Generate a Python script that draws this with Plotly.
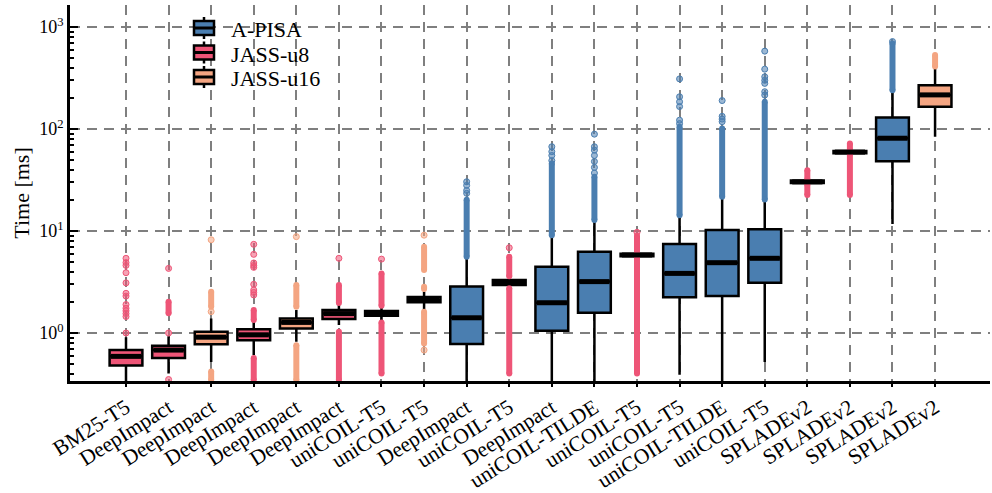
import plotly.graph_objects as go

# ---------------- data ----------------
labels = ["BM25-T5", "DeepImpact", "DeepImpact", "DeepImpact", "DeepImpact", "DeepImpact",
          "uniCOIL-T5", "uniCOIL-T5", "DeepImpact", "uniCOIL-T5", "DeepImpact", "uniCOIL-TILDE",
          "uniCOIL-T5", "uniCOIL-T5", "uniCOIL-TILDE", "uniCOIL-T5",
          "SPLADEv2", "SPLADEv2", "SPLADEv2", "SPLADEv2"]
systems = ["JASS-u8", "JASS-u8", "JASS-u16", "JASS-u8", "JASS-u16", "JASS-u8",
           "JASS-u8", "JASS-u16", "A-PISA", "JASS-u8", "A-PISA", "A-PISA",
           "JASS-u8", "A-PISA", "A-PISA", "A-PISA",
           "JASS-u8", "JASS-u8", "A-PISA", "JASS-u16"]

q1 = [0.48, 0.57, 0.775, 0.85, 1.11, 1.37, 1.48, 2.00, 0.78, 2.95, 1.05, 1.58,
      5.65, 2.24, 2.31, 3.11, 29.5, 58.0, 48.3, 165.0]
median = [0.59, 0.68, 0.91, 0.96, 1.27, 1.55, 1.56, 2.11, 1.41, 3.12, 1.98, 3.19,
          5.82, 3.84, 4.89, 5.40, 30.3, 59.4, 81.2, 216.0]
q3 = [0.68, 0.75, 1.03, 1.09, 1.39, 1.68, 1.64, 2.25, 2.85, 3.30, 4.47, 6.27,
      6.00, 7.45, 10.2, 10.4, 31.2, 61.0, 130.0, 268.0]
lower_whisker = [0.30, 0.40, 0.52, 0.61, 0.82, 1.20, 1.29, 1.68, 0.30, 2.74, 0.30, 0.30,
                 5.50, 0.39, 0.30, 0.52, 28.5, 57.0, 11.7, 84.0]
upper_whisker = [0.91, 0.93, 1.39, 1.29, 1.68, 1.92, 1.81, 2.54, 5.6, 3.56, 9.1, 12.8,
                 6.20, 14.3, 21.7, 20.4, 32.0, 62.0, 240.0, 410.0]

# dense runs of outliers: (box index, low, high)
dense_outliers = [
    (1, 1.56, 2.03),
    (2, 1.81, 2.54), (2, 0.346, 0.42),
    (3, 1.34, 1.68), (3, 0.346, 0.57),
    (4, 1.81, 2.95), (4, 0.346, 0.76),
    (5, 1.97, 2.95), (5, 0.346, 1.03),
    (6, 1.85, 3.84), (6, 0.40, 1.27),
    (7, 4.15, 7.0), (7, 0.79, 1.62), (7, 2.70, 2.84),
    (8, 5.6, 20.2),
    (9, 3.6, 5.6), (9, 0.40, 2.74),
    (10, 9.1, 46.0),
    (11, 12.8, 34.0),
    (12, 6.2, 9.0), (12, 0.40, 5.5),
    (13, 14.3, 105.0),
    (14, 21.7, 101.0),
    (15, 20.4, 185.0),
    (16, 32.0, 39.4), (16, 22.5, 28.5),
    (17, 62.0, 72.0), (17, 22.5, 57.0),
    (18, 240.0, 690.0),
    (19, 410.0, 530.0),
]
# isolated outliers: box index -> values
sparse_outliers = {
    0: [1.0, 1.45, 1.55, 1.65, 1.75, 1.9, 2.3, 2.45, 3.1, 3.9, 4.6, 4.9, 5.4],
    1: [1.0, 4.3, 0.35],
    2: [1.62, 8.2],
    3: [2.36, 2.5, 2.64, 3.0, 4.4, 4.6, 4.86, 5.9, 7.4],
    4: [8.8],
    5: [5.4],
    6: [5.3],
    7: [9.1, 0.68],
    8: [23.4, 25.0, 28.0, 30.4],
    9: [6.85],
    10: [49.0, 55.0, 60.0, 67.0],
    11: [37.0, 42.0, 48.0, 55.0, 62.0, 67.0, 89.0],
    12: [9.7],
    13: [113.0, 122.0, 166.0, 185.0, 207.0, 310.0],
    14: [118.0, 125.0, 133.0, 190.0],
    15: [215.0, 232.0, 280.0, 300.0, 325.0, 386.0, 580.0],
    18: [720.0],
}

y_tick_values = [1, 10, 100, 1000]
y_tick_text = ["10<sup>0</sup>", "10<sup>1</sup>", "10<sup>2</sup>", "10<sup>3</sup>"]
legend_names = ["A-PISA", "JASS-u8", "JASS-u16"]

# ---------------- styling ----------------
colors = {"A-PISA": "#4A7EB0", "JASS-u8": "#EE5577", "JASS-u16": "#F4A582"}
faded = {"A-PISA": "rgba(74,126,176,0.55)", "JASS-u8": "rgba(238,85,119,0.55)",
         "JASS-u16": "rgba(244,165,130,0.55)"}
BOX_W = 0.77
FONT = "Liberation Serif"
W, H = 992, 493
ML, MR, MT, MB = 70, 2, 5, 112
PW, PH = W - ML - MR, H - MT - MB


def px_x(px):
    return (px - ML) / PW


def px_y(py):
    return (H - MB - py) / PH


fig = go.Figure()
xs_all = list(range(len(labels)))

# outliers (beyond whiskers)
for sysname in legend_names:
    dx, dy = [], []
    for i, lo, hi in dense_outliers:
        if systems[i] == sysname:
            dx += [i, i, None]
            dy += [lo, hi, None]
    if dx:
        fig.add_trace(go.Scatter(x=dx, y=dy, mode="lines+markers",
                                 line=dict(color=colors[sysname], width=6),
                                 marker=dict(size=6, color=colors[sysname]),
                                 showlegend=False, hoverinfo="skip"))
    sx, sy = [], []
    for i, vals in sparse_outliers.items():
        if systems[i] == sysname:
            sx += [i] * len(vals)
            sy += vals
    if sx:
        fig.add_trace(go.Scatter(x=sx, y=sy, mode="markers",
                                 marker=dict(size=6, color=faded[sysname],
                                             line=dict(color=colors[sysname], width=1)),
                                 showlegend=False, hoverinfo="skip"))

# boxes
for sysname in legend_names:
    idx = [i for i in xs_all if systems[i] == sysname]
    fig.add_trace(go.Box(
        name=sysname,
        x=idx,
        q1=[q1[i] for i in idx],
        median=[median[i] for i in idx],
        q3=[q3[i] for i in idx],
        lowerfence=[lower_whisker[i] for i in idx],
        upperfence=[upper_whisker[i] for i in idx],
        fillcolor=colors[sysname],
        line=dict(color="black", width=2.5),
        width=BOX_W,
        whiskerwidth=0,
        boxpoints=False,
        hoverinfo="skip",
        showlegend=False,
    ))

# thick median bars
mx, my = [], []
for i in xs_all:
    mx += [i - BOX_W / 2 + 0.03, i + BOX_W / 2 - 0.03, None]
    my += [median[i], median[i], None]
fig.add_trace(go.Scatter(x=mx, y=my, mode="lines", line=dict(color="black", width=5),
                         showlegend=False, hoverinfo="skip"))

# hand-drawn legend (box icon with whiskers + label)
row_centers = [28, 52.5, 77]
shapes = []
annotations = []
for name, cy in zip(legend_names, row_centers):
    shapes.append(dict(type="line", xref="paper", yref="paper",
                       x0=px_x(204), x1=px_x(204), y0=px_y(cy - 11), y1=px_y(cy + 11),
                       line=dict(color="black", width=2.5), layer="above"))
    shapes.append(dict(type="rect", xref="paper", yref="paper",
                       x0=px_x(194), x1=px_x(214), y0=px_y(cy - 7), y1=px_y(cy + 7),
                       fillcolor=colors[name], line=dict(color="black", width=2.5),
                       layer="above"))
    shapes.append(dict(type="line", xref="paper", yref="paper",
                       x0=px_x(194), x1=px_x(214), y0=px_y(cy), y1=px_y(cy),
                       line=dict(color="black", width=3), layer="above"))
    annotations.append(dict(text=name, xref="paper", yref="paper",
                            x=px_x(229), y=px_y(cy + 1.5), xanchor="left", yanchor="middle",
                            showarrow=False, font=dict(size=22, family=FONT, color="black")))

minor_vals = [d * k for d in (0.1, 1, 10, 100, 1000) for k in range(2, 10)]
grid = dict(showgrid=True, gridcolor="#7f7f7f", gridwidth=2, griddash="10px,7px")

fig.update_layout(
    width=W, height=H,
    margin=dict(l=ML, r=MR, t=MT, b=MB),
    plot_bgcolor="white", paper_bgcolor="white",
    boxmode="overlay",
    showlegend=False,
    shapes=shapes,
    annotations=annotations,
    font=dict(family=FONT, color="black", size=20),
    xaxis=dict(range=[-1.315, 20.29], tickmode="array", tickvals=xs_all, ticktext=labels,
               tickangle=-32, tickfont=dict(size=21.5, family=FONT),
               showline=True, linecolor="black", linewidth=2.5,
               ticks="outside", ticklen=3, tickwidth=2, tickcolor="black",
               zeroline=False, automargin=False, **grid),
    yaxis=dict(type="log", range=[-0.4706, 3.2157],
               tickmode="array", tickvals=y_tick_values, ticktext=y_tick_text,
               tickfont=dict(size=18, family=FONT),
               showline=True, linecolor="black", linewidth=2.5,
               ticks="inside", ticklen=8, tickwidth=2, tickcolor="black",
               minor=dict(ticks="inside", ticklen=4, tickwidth=1.5, tickcolor="black",
                          tickmode="array", tickvals=minor_vals, showgrid=False),
               title=dict(text="Time [ms]", font=dict(size=22, family=FONT), standoff=4),
               zeroline=False, automargin=False, **grid),
)

fig.write_html("out.html", config={"displayModeBar": False},
               post_script="document.body.style.margin='0';document.body.style.padding='0';")
